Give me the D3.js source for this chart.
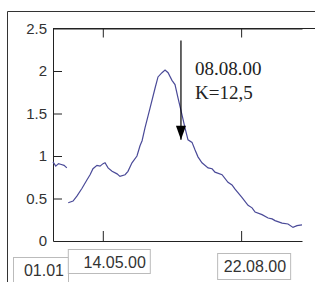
<!DOCTYPE html>
<html>
<head>
<meta charset="utf-8">
<script src="https://cdn.jsdelivr.net/npm/d3@7"></script>
<style>
  body { margin: 0; background: #fff; }
  svg { display: block; font-family: "Liberation Sans", Arial, sans-serif; }
</style>
</head>
<body>
<div id="chart"></div>
<script>
// day index along the axis, and the value (null = gap)
const days = [0, 2, 4, 6, 8, 10, null,
  11, 14.5, 17.4, 21, 24.6, 26.8, 28.9, 31.8, 34, 36.2, 37.6, 39.8, 42.7, 46.3, 48.4, 52.1, 54.2,
  57.1, 60.7, 62.9, 64.4, 66.5, 70.1, 73.8, 75.9, 78.8, 81, 83.2, 86, 88.2, 90.4, 93.3, 95.4,
  97.6, 100.5, 102.7, 104.8, 107.7, 112.1, 115, 117.1, 122.2, 126.5, 129.4, 131.6, 136.7, 141,
  143.9, 146.1, 151.1, 155.5, 158.4, 160.5, 165.6, 169.9, 173.5, 176.4, 180];
const values = [0.93, 0.88, 0.91, 0.90, 0.89, 0.86, null,
  0.45, 0.47, 0.53, 0.62, 0.72, 0.78, 0.85, 0.89, 0.88, 0.91, 0.92, 0.86, 0.82, 0.79, 0.76, 0.78, 0.82,
  0.92, 1.00, 1.12, 1.18, 1.33, 1.56, 1.80, 1.93, 1.98, 2.01, 1.98, 1.89, 1.84, 1.68, 1.48, 1.33,
  1.19, 1.16, 1.07, 0.99, 0.92, 0.86, 0.85, 0.81, 0.78, 0.69, 0.66, 0.61, 0.51, 0.42,
  0.39, 0.34, 0.31, 0.27, 0.26, 0.24, 0.21, 0.20, 0.16, 0.18, 0.19];

const yTicks = [0, 0.5, 1, 1.5, 2, 2.5];
const xTickDays = [36, 136];
const xTickLabels = ['14.05.00', '22.08.00'];
const startLabel = '01.01';

const markDay = 92.5;
const markFrom = 2.36, markTo = 1.19;
const markLines = ['08.08.00', 'K=12,5'];

const W = 315, H = 282;
const svg = d3.select('#chart').append('svg').attr('width', W).attr('height', H);

const x = d3.scaleLinear().domain([0, 180]).range([53, 302]);
const y = d3.scaleLinear().domain([0, 2.5]).range([241, 28.5]);

// outer frame (only left + top visible)
svg.append('path')
  .attr('d', `M7.5,${H}V11.5H${W}`)
  .attr('fill', 'none').attr('stroke', '#333').attr('stroke-width', 1);

// top frame line of plot
svg.append('line')
  .attr('x1', x(0)).attr('x2', W).attr('y1', y(2.5)).attr('y2', y(2.5))
  .attr('stroke', '#222');

// y axis, ticks pointing inward
const yAxis = svg.append('g').attr('transform', `translate(${x(0)},0)`)
  .call(d3.axisLeft(y).tickValues(yTicks).tickSizeInner(-9).tickSizeOuter(0).tickPadding(6)
    .tickFormat(d => d3.format('')(d)));
yAxis.select('.domain').attr('stroke', '#222');
yAxis.selectAll('.tick line').attr('stroke', '#222').filter(d => d === 0 || d === 2.5).remove();
yAxis.selectAll('.tick text').attr('font-size', 15).attr('fill', '#333')
  .attr('font-family', '"Liberation Sans", Arial, sans-serif');

// bottom and top axes with inward ticks
const xb = svg.append('g').attr('transform', `translate(0,${y(0)})`)
  .call(d3.axisBottom(x).tickValues(xTickDays).tickSizeInner(-10).tickSizeOuter(0).tickFormat(''));
xb.selectAll('path, line').attr('stroke', '#222');
const xt = svg.append('g').attr('transform', `translate(0,${y(2.5)})`)
  .call(d3.axisTop(x).tickValues(xTickDays).tickSizeInner(-9).tickSizeOuter(0).tickFormat(''));
xt.selectAll('path, line').attr('stroke', '#222');

// boxed date labels under the axis
const boxes = [
  { text: startLabel, x0: 13, x1: 68, y0: 257, y1: 290, base: 276 },
  { text: xTickLabels[0], x0: x(xTickDays[0]) - 35, x1: x(xTickDays[0]) + 47, y0: 249, y1: 273, base: 268 },
  { text: xTickLabels[1], x0: x(xTickDays[1]) - 24, x1: x(xTickDays[1]) + 49, y0: 253, y1: 279, base: 272 }
];
const lb = svg.append('g').selectAll('g').data(boxes).join('g');
lb.append('rect')
  .attr('x', d => d.x0 + 0.5).attr('y', d => d.y0 + 0.5)
  .attr('width', d => d.x1 - d.x0).attr('height', d => d.y1 - d.y0)
  .attr('fill', '#fff').attr('stroke', '#bbb');
lb.append('text')
  .attr('x', d => d.x1 - 4).attr('y', d => d.base)
  .attr('text-anchor', 'end').attr('font-size', 16).attr('fill', '#333')
  .text(d => d.text);

// curve
const pts = days.map((d, i) => [d, values[i]]);
svg.append('path')
  .datum(pts)
  .attr('fill', 'none')
  .attr('stroke', '#4a4a98')
  .attr('stroke-width', 1.2)
  .attr('d', d3.line().defined(d => d[0] !== null && d[1] !== null)
    .x(d => x(d[0])).y(d => y(d[1])));

// annotation arrow
svg.append('defs').append('marker')
  .attr('id', 'ah').attr('viewBox', '0 0 10 14').attr('refX', 5).attr('refY', 14)
  .attr('markerWidth', 10).attr('markerHeight', 14).attr('markerUnits', 'userSpaceOnUse')
  .attr('orient', 'auto-start-reverse')
  .append('path').attr('d', 'M0,0L10,0L5,14Z').attr('fill', '#000');
svg.append('line')
  .attr('x1', x(markDay)).attr('x2', x(markDay))
  .attr('y1', y(markFrom)).attr('y2', y(markTo))
  .attr('stroke', '#000').attr('stroke-width', 1.2);
svg.append('path')
  .attr('d', `M${x(markDay) - 5},${y(markTo) - 14}L${x(markDay) + 5},${y(markTo) - 14}L${x(markDay)},${y(markTo)}Z`)
  .attr('fill', '#000');

svg.append('g').selectAll('text').data(markLines).join('text')
  .attr('x', x(markDay) + 14)
  .attr('y', (d, i) => 75 + i * 24)
  .attr('font-family', '"Liberation Serif", "Times New Roman", serif')
  .attr('font-size', 19).attr('fill', '#222')
  .text(d => d);
</script>
</body>
</html>
